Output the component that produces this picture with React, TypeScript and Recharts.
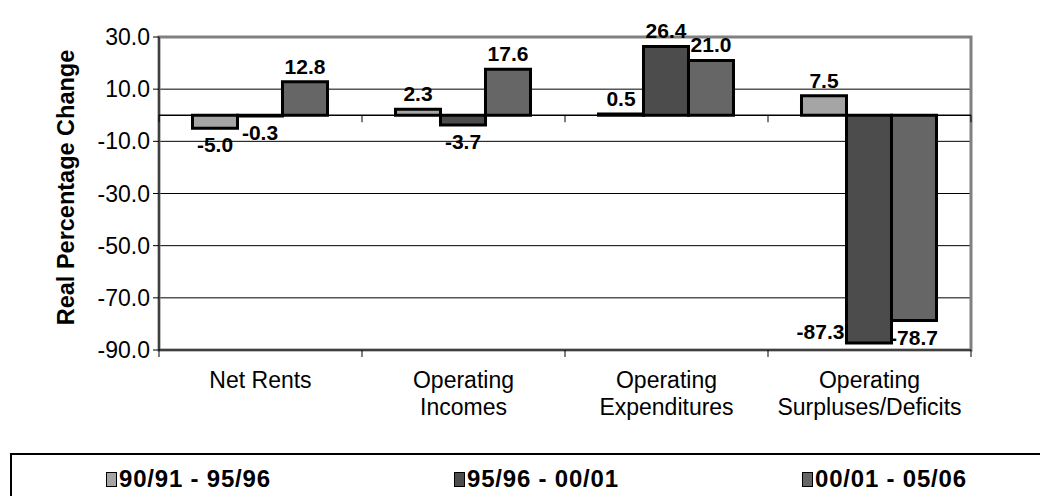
import React from "react";
import {
  BarChart,
  Bar,
  XAxis,
  YAxis,
  CartesianGrid,
  ReferenceLine,
  ReferenceArea,
  LabelList,
} from "recharts";

const categories = [
  "Net Rents",
  "Operating Incomes",
  "Operating Expenditures",
  "Operating Surpluses/Deficits",
];
const categoryLines: Record<string, string[]> = {
  "Net Rents": ["Net Rents"],
  "Operating Incomes": ["Operating", "Incomes"],
  "Operating Expenditures": ["Operating", "Expenditures"],
  "Operating Surpluses/Deficits": ["Operating", "Surpluses/Deficits"],
};

const period1 = [-5.0, 2.3, 0.5, 7.5];
const period2 = [-0.3, -3.7, 26.4, -87.3];
const period3 = [12.8, 17.6, 21.0, -78.7];

const seriesNames = ["90/91 - 95/96", "95/96 - 00/01", "00/01 - 05/06"];
const seriesColors = ["#a5a5a5", "#4c4c4c", "#666666"];

const yTicks = [30, 10, -10, -30, -50, -70, -90];
const yDomain: [number, number] = [-90, 30];

const FONT = '"Liberation Sans", Arial, sans-serif';

const data = categories.map((name, i) => ({
  name,
  p1: period1[i],
  p2: period2[i],
  p3: period3[i],
}));

// Excel style "outside end" labels; if no room below the axis, put it on the left
const BarLabel = (props: any) => {
  const { x, y, width, height, value } = props;
  const top = Math.min(y, y + height);
  const bottom = Math.max(y, y + height);
  const cx = x + width / 2;
  const common = {
    fontFamily: FONT,
    fontSize: 21,
    fontWeight: "bold" as const,
    fill: "#000",
  };
  if (value >= 0) {
    return (
      <text x={cx} y={top - 8} textAnchor="middle" {...common}>
        {value.toFixed(1)}
      </text>
    );
  }
  if (value < yDomain[0] + 10) {
    return (
      <text x={x - 2} y={bottom - 4} textAnchor="end" {...common}>
        {value.toFixed(1)}
      </text>
    );
  }
  return (
    <text x={cx} y={bottom + 24} textAnchor="middle" {...common}>
      {value.toFixed(1)}
    </text>
  );
};

const CategoryTick = (props: any) => {
  const { x, y, payload, width, visibleTicksCount, index } = props;
  const half = width / visibleTicksCount / 2;
  const lines = categoryLines[payload.value] || [payload.value];
  return (
    <g>
      <line x1={x - half} x2={x - half} y1={y} y2={y + 7} stroke="#000" />
      {index === visibleTicksCount - 1 && (
        <line x1={x + half} x2={x + half} y1={y} y2={y + 7} stroke="#000" />
      )}
      {lines.map((ln, i) => (
        <text
          key={i}
          x={x}
          y={y + 38 + i * 27}
          textAnchor="middle"
          fontFamily={FONT}
          fontSize={23}
          fill="#000"
        >
          {ln}
        </text>
      ))}
    </g>
  );
};

const YTitle = (props: any) => {
  const { viewBox } = props;
  const cx = 66;
  const cy = viewBox.y + viewBox.height / 2 - 6;
  return (
    <text
      x={cx}
      y={cy}
      transform={`rotate(-90, ${cx}, ${cy})`}
      textAnchor="middle"
      dominantBaseline="central"
      fontFamily={FONT}
      fontSize={23.5}
      fontWeight="bold"
      fill="#000"
    >
      Real Percentage Change
    </text>
  );
};

// small ticks hanging off the zero line at the category boundaries
const ZeroTicks = (props: any) => {
  const { viewBox } = props;
  const n = categories.length;
  return (
    <g>
      {Array.from({ length: n + 1 }).map((_, i) => {
        const tx = viewBox.x + (viewBox.width * i) / n;
        return (
          <line key={i} x1={tx} x2={tx} y1={viewBox.y} y2={viewBox.y + 7} stroke="#000" />
        );
      })}
    </g>
  );
};

const Legend = () => (
  <div
    style={{
      position: "absolute",
      left: 10,
      top: 453,
      width: 1060,
      height: 60,
      border: "2px solid #000",
      boxSizing: "border-box",
      fontFamily: FONT,
      fontSize: 24,
      letterSpacing: 0.8,
      fontWeight: "bold",
      background: "#fff",
    }}
  >
    {seriesNames.map((s, i) => (
      <div
        key={s}
        style={{
          position: "absolute",
          left: 94 + i * 348,
          top: 10,
          display: "flex",
          alignItems: "center",
          height: 28,
          whiteSpace: "nowrap",
        }}
      >
        <span
          style={{
            display: "inline-block",
            width: 9,
            height: 13,
            background: seriesColors[i],
            border: "1.5px solid #000",
            marginRight: 2,
          }}
        />
        {s}
      </div>
    ))}
  </div>
);

export default function App() {
  return (
    <div
      style={{
        position: "relative",
        width: 1048,
        height: 496,
        marginLeft: -8,
        marginTop: -8,
        background: "#fff",
        overflow: "hidden",
      }}
    >
      <BarChart
        width={1048}
        height={440}
        data={data}
        margin={{ top: 37, right: 77, left: 0, bottom: 0 }}
        barCategoryGap="16.5%"
        barGap={0}
      >
        <CartesianGrid horizontal vertical={false} stroke="#000" strokeWidth={1} />
        <ReferenceArea
          y1={yDomain[0]}
          y2={yDomain[1]}
          fill="none"
          stroke="#808080"
          strokeWidth={3}
        />
        <XAxis
          dataKey="name"
          height={90}
          axisLine={{ stroke: "#000" }}
          tickLine={false}
          tickSize={0}
          tickMargin={0}
          interval={0}
          tick={<CategoryTick />}
        />
        <YAxis
          width={159}
          domain={yDomain}
          ticks={yTicks}
          interval={0}
          allowDataOverflow
          axisLine={{ stroke: "#000" }}
          tickLine={{ stroke: "#000" }}
          tickSize={6}
          tickMargin={3}
          tickFormatter={(v: number) => v.toFixed(1)}
          tick={{ fontFamily: FONT, fontSize: 23, fill: "#000" }}
          label={<YTitle />}
        />
        <ReferenceLine y={0} stroke="#000" strokeWidth={1.5} label={<ZeroTicks />} />
        <Bar dataKey="p1" name={seriesNames[0]} fill={seriesColors[0]} stroke="#000" strokeWidth={3} isAnimationActive={false}>
          <LabelList dataKey="p1" content={<BarLabel />} />
        </Bar>
        <Bar dataKey="p2" name={seriesNames[1]} fill={seriesColors[1]} stroke="#000" strokeWidth={3} isAnimationActive={false}>
          <LabelList dataKey="p2" content={<BarLabel />} />
        </Bar>
        <Bar dataKey="p3" name={seriesNames[2]} fill={seriesColors[2]} stroke="#000" strokeWidth={3} isAnimationActive={false}>
          <LabelList dataKey="p3" content={<BarLabel />} />
        </Bar>
      </BarChart>
      <Legend />
    </div>
  );
}
